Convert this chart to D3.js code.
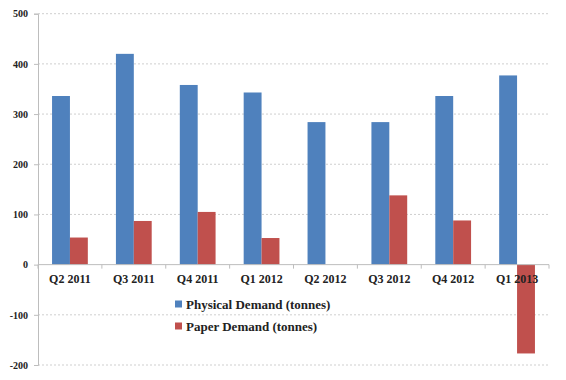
<!DOCTYPE html>
<html><head><meta charset="utf-8">
<script src="https://cdn.jsdelivr.net/npm/d3@7"></script>
<style>body{margin:0;background:#fff}svg{display:block}
svg text{font-family:"Liberation Serif","DejaVu Serif","Times New Roman",serif;font-weight:bold;fill:#222}</style>
</head><body><svg id="c" width="566" height="380"></svg>
<script>
const categories = ["Q2 2011","Q3 2011","Q4 2011","Q1 2012","Q2 2012","Q3 2012","Q4 2012","Q1 2013"];
const physical = [336, 420, 358, 343, 284, 284, 336, 377];
const paper = [54, 87, 105, 53, 0, 138, 88, -177];
const seriesNames = ["Physical Demand (tonnes)", "Paper Demand (tonnes)"];
const colors = ["#4F81BD", "#C0504D"];
const yTicks = [-200, -100, 0, 100, 200, 300, 400, 500];

const svg = d3.select("#c");
const plotL = 38, plotR = 549, plotT = 13.7, plotB = 365;

const y = d3.scaleLinear().domain([-200, 500]).range([plotB, plotT]);
const x0 = d3.scaleBand().domain(categories).range([plotL, plotR]).paddingInner(0.44).paddingOuter(0.22);
const x1 = d3.scaleBand().domain([0, 1]).range([0, x0.bandwidth()]);

// gridlines
svg.append("g").selectAll("line").data(yTicks.filter(d => d !== 0)).join("line")
  .attr("x1", plotL).attr("x2", plotR)
  .attr("y1", d => y(d)).attr("y2", d => y(d))
  .attr("stroke", "#cfcfcf").attr("stroke-width", 1).attr("stroke-dasharray", "2,2");

// y axis
const ya = svg.append("g").attr("transform", `translate(${plotL},0)`)
  .call(d3.axisLeft(y).tickValues(yTicks).tickFormat(d => String(d)).tickSize(4).tickPadding(6));
ya.attr("font-family", null).attr("font-size", null);
ya.select(".domain").attr("stroke", "#bdbdbd");
ya.selectAll(".tick line").attr("stroke", "#bdbdbd");
ya.selectAll("text").style("font-size", "10px").attr("fill", "#222");

// bars
const data = categories.map((c, i) => ({c, v: [physical[i], paper[i]]}));
const groups = svg.append("g").selectAll("g").data(data).join("g")
  .attr("transform", d => `translate(${x0(d.c)},0)`);
groups.selectAll("rect").data(d => d.v.map((v, k) => ({v, k}))).join("rect")
  .attr("x", d => x1(d.k)).attr("width", x1.bandwidth())
  .attr("y", d => y(Math.max(0, d.v)))
  .attr("height", d => Math.abs(y(d.v) - y(0)))
  .attr("fill", d => colors[d.k]);

// x axis at zero
const step = x0.step();
const xa = svg.append("g");
xa.append("line").attr("x1", plotL).attr("x2", plotR).attr("y1", y(0)).attr("y2", y(0)).attr("stroke", "#bdbdbd");
xa.selectAll(".tk").data(d3.range(categories.length + 1)).join("line").attr("class", "tk")
  .attr("x1", i => plotL + i * step).attr("x2", i => plotL + i * step)
  .attr("y1", y(0)).attr("y2", y(0) + 4).attr("stroke", "#bdbdbd");
xa.selectAll("text").data(categories).join("text")
  .attr("x", d => x0(d) + x0.bandwidth() / 2).attr("y", y(0) + 18)
  .attr("text-anchor", "middle")
  .style("font-size", "12px")
  .text(d => d);

// legend
const lg = svg.append("g").attr("transform", "translate(175,0)");
seriesNames.forEach((n, i) => {
  const cy = 304 + i * 22;
  lg.append("rect").attr("x", 0).attr("y", cy - 3.5).attr("width", 7).attr("height", 7).attr("fill", colors[i]);
  lg.append("text").attr("x", 11).attr("y", cy + 4.5)
    .style("font-size", "13px").text(n);
});
</script></body></html>
